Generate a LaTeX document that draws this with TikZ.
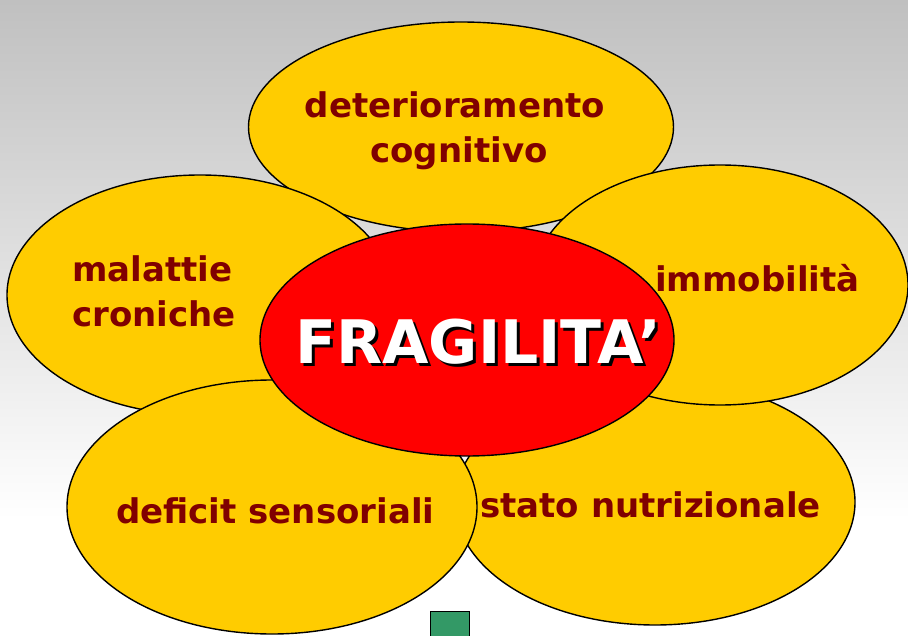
\documentclass[tikz,border=0pt]{standalone}
\usepackage{fontspec}
\setmainfont{DejaVu Sans}
\usetikzlibrary{shapes.geometric}
\definecolor{petal}{RGB}{255,204,0}
\definecolor{core}{RGB}{255,0,0}
\definecolor{ink}{RGB}{128,0,0}
\definecolor{stem}{RGB}{51,153,102}
\definecolor{bgtop}{RGB}{192,192,192}
\tikzset{
  petalshape/.style={ellipse, draw=black, line width=1.4pt, fill=petal, inner sep=0pt},
  coreshape/.style={ellipse, draw=black, line width=1.4pt, fill=core, inner sep=0pt},
  label/.style={text=ink, font=\bfseries\fontsize{34}{40}\selectfont, inner sep=0pt},
  bigtext/.style={font=\bfseries\fontsize{60}{66}\selectfont, inner sep=0pt},
}
\newcommand{\shadowtext}[1]{\rlap{\kern3pt\raisebox{-3pt}{\color{black}#1}}#1}
\begin{document}
\begin{tikzpicture}[x=1pt,y=-1pt]
\useasboundingbox (0,0) rectangle (908,636);
\clip (0,0) rectangle (908,636);
\shade[top color=bgtop, bottom color=white] (0,0) rectangle (908,520);
\fill[white] (0,519) rectangle (908,637);
% petals (drawing order = stacking order)
\node[petalshape, minimum width=425pt, minimum height=210pt] (ptop) at (461,127) {};
\node[petalshape, minimum width=386pt, minimum height=240pt] (pleft) at (200,295) {};
\node[petalshape, minimum width=400pt, minimum height=246pt] (pbr) at (655,502) {};
\node[petalshape, minimum width=376pt, minimum height=240pt] (pright) at (720,285) {};
\node[petalshape, minimum width=410pt, minimum height=254pt] (pbl) at (272,507) {};
\node[coreshape, minimum width=414pt, minimum height=232pt] (core) at (467,340) {};
% stem
\node[draw=black, line width=1.2pt, fill=stem, minimum width=39pt, minimum height=40pt, inner sep=0pt, anchor=north west] (stembox) at (430,611) {};
% labels
\node[label, anchor=base] (t1a) at (455,118) {deterioramento};
\node[label, anchor=base] (t1b) at (459,163) {cognitivo};
\node[label, anchor=base west] (t2a) at (72,282) {malattie};
\node[label, anchor=base west] (t2b) at (72,327) {croniche};
\node[label, anchor=base west] (t3) at (655,292) {immobilità};
\node[label, anchor=base west] (t4) at (480,517) {stato nutrizionale};
\node[label, anchor=base west] (t5) at (116,523) {deficit sensoriali};
\node[bigtext, text=white, anchor=base west] (frag) at (295,363) {\shadowtext{FRAGILITA’}};
\end{tikzpicture}
\end{document}
